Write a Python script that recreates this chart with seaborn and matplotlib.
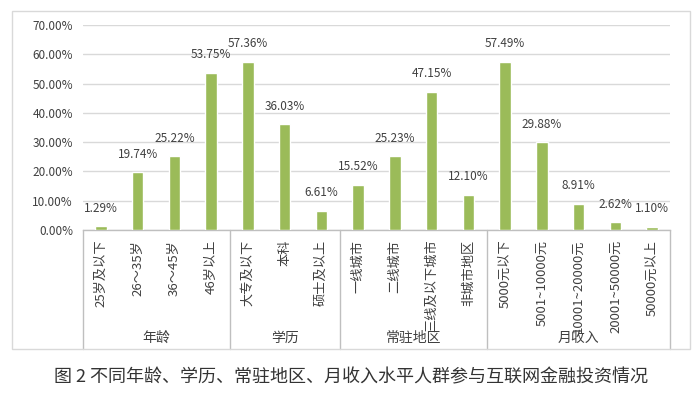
import matplotlib
matplotlib.use("Agg")
import matplotlib.pyplot as plt
import seaborn as sns
import pandas as pd
from matplotlib.patches import Rectangle
from matplotlib.ticker import FuncFormatter
import matplotlib.transforms as mtransforms

# ---- data ----
group_names = ["年龄", "学历", "常驻地区", "月收入"]
group_sizes = [4, 3, 4, 5]
categories = ["25岁及以下", "26～35岁", "36～45岁", "46岁以上",
              "大专及以下", "本科", "硕士及以上",
              "一线城市", "二线城市", "三线及以下城市", "非城市地区",
              "5000元以下", "5001~10000元", "10001~20000元", "20001~50000元", "50000元以上"]
values = [1.29, 19.74, 25.22, 53.75,
          57.36, 36.03, 6.61,
          15.52, 25.23, 47.15, 12.10,
          57.49, 29.88, 8.91, 2.62, 1.10]
caption = "图 2 不同年龄、学历、常驻地区、月收入水平人群参与互联网金融投资情况"

groups = []
for g, n in zip(group_names, group_sizes):
    groups += [g] * n
df = pd.DataFrame({"category": categories, "value": values, "group": groups})

sns.set_theme(style="white")
plt.rcParams['font.family'] = ['Noto Sans CJK SC', 'DejaVu Sans']

W, H = 700, 393
fig = plt.figure(figsize=(W / 100, H / 100), dpi=100)

# outer frame
fig.patches.append(Rectangle((12 / W, 1 - 349 / H), 678 / W, 338 / H,
                             transform=fig.transFigure, fill=False,
                             edgecolor="#D9D9D9", lw=1.0))

ax_l, ax_r, ax_t, ax_b = 82.6, 670.4, 25, 230
ax = fig.add_axes([ax_l / W, 1 - ax_b / H, (ax_r - ax_l) / W, (ax_b - ax_t) / H])

sns.barplot(data=df, x="category", y="value", order=categories, color="#9BBB59",
            saturation=1, width=0.31, ax=ax, zorder=3)

ax.set_ylim(0, 70)
ax.set_xlim(-0.5, len(categories) - 0.5)
ax.set_yticks(range(0, 71, 10))
ax.yaxis.set_major_formatter(FuncFormatter(lambda v, p: f"{v:.2f}%"))
ax.grid(axis="y", color="#D9D9D9", lw=1.0, zorder=0)
ax.grid(axis="x", visible=False)
for s in ["left", "right", "top"]:
    ax.spines[s].set_visible(False)
ax.spines["bottom"].set_color("#BFBFBF")
ax.spines["bottom"].set_linewidth(1.0)
ax.set_xlabel("")
ax.set_ylabel("")
ax.tick_params(axis="y", length=0, pad=7, labelsize=8.5, labelcolor="#404040")
ax.tick_params(axis="x", length=0, pad=7, labelsize=9.5, labelcolor="#404040")
ax.set_xticks(range(len(categories)))
ax.set_xticklabels(categories, rotation=90, va="top", ha="center")

# data labels
for i, v in enumerate(values):
    ax.annotate(f"{v:.2f}%", (i, v), xytext=(0, 13), textcoords="offset points",
                ha="center", va="center", fontsize=8.5, color="#404040")

# group separators and labels
trans = mtransforms.blended_transform_factory(ax.transData, ax.transAxes)
bottom_y = -(349 - ax_b) / (ax_b - ax_t)
label_y = -(338 - ax_b) / (ax_b - ax_t)
start = 0
bounds = [-0.5]
for g, n in zip(group_names, group_sizes):
    end = start + n
    bounds.append(end - 0.5)
    ax.text((start + end - 1) / 2, label_y, g, transform=trans, ha="center",
            va="center", fontsize=10, color="#404040")
    start = end
for b in bounds:
    ax.plot([b, b], [0, bottom_y], transform=trans, color="#BFBFBF", lw=1.0,
            clip_on=False)

fig.text(351 / W, 1 - 377 / H, caption, ha="center", va="center",
         fontsize=13, color="#333333")

fig.savefig("out.png", dpi=100)
